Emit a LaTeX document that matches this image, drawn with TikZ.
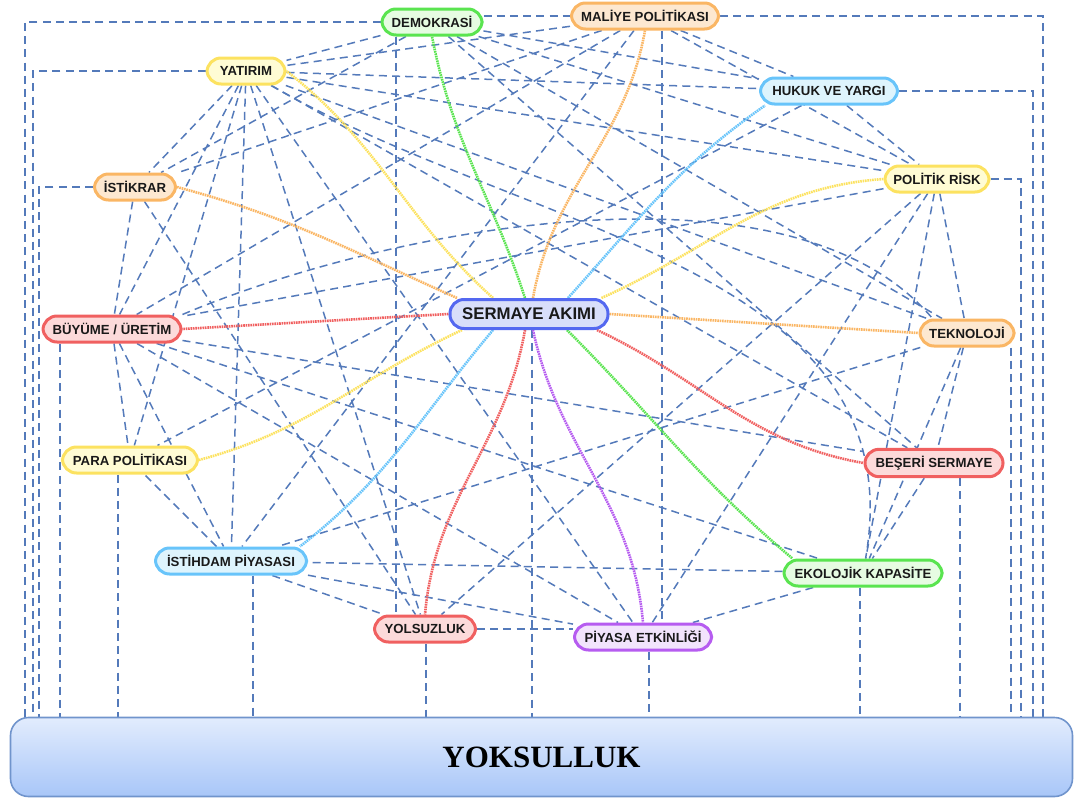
\documentclass[tikz,border=0pt]{standalone}
\usepackage{fontspec}
\newfontfamily\lblfont{Liberation Sans}
\newfontfamily\yokfont{Liberation Serif}
\usetikzlibrary{backgrounds}
\definecolor{grnD}{RGB}{90,228,80}
\definecolor{grnL}{RGB}{230,252,226}
\definecolor{orgD}{RGB}{250,182,100}
\definecolor{orgL}{RGB}{253,232,208}
\definecolor{ylwD}{RGB}{252,226,96}
\definecolor{ylwL}{RGB}{255,252,212}
\definecolor{cyaD}{RGB}{104,196,250}
\definecolor{cyaL}{RGB}{222,244,253}
\definecolor{redD}{RGB}{240,96,96}
\definecolor{redL}{RGB}{252,218,218}
\definecolor{purD}{RGB}{182,92,240}
\definecolor{purL}{RGB}{242,228,252}
\definecolor{bluD}{RGB}{84,104,240}
\definecolor{bluL}{RGB}{216,222,250}
\definecolor{linkC}{RGB}{84,122,186}
\definecolor{yokD}{RGB}{112,148,204}
\definecolor{yokT}{RGB}{226,236,253}
\definecolor{yokB}{RGB}{168,198,248}
\tikzset{
  box/.style 2 args={draw=#1, fill=#2, line width=1.5pt, rounded corners=7pt,
    minimum height=13pt, inner xsep=0pt, text=black!90,
    font=\lblfont\bfseries\fontsize{6.6}{7}\selectfont},
  link/.style={draw=linkC, line width=0.75pt, dash pattern=on 4pt off 2.6pt},
  flow/.style={draw=#1, line width=1.3pt, dash pattern=on 0.8pt off 0.4pt},
}

\begin{document}
\begin{tikzpicture}[x=0.5pt, y=0.5pt]
\useasboundingbox (0,0) rectangle (1078,-798);

% factors
\node[box={grnD}{grnL}, minimum width=50pt] (dem) at (432,-22) {DEMOKRASİ};
\node[box={orgD}{orgL}, minimum width=73.5pt] (mal) at (645,-16) {MALİYE POLİTİKASI};
\node[box={ylwD}{ylwL}, minimum width=39pt] (yat) at (246,-71) {YATIRIM};
\node[box={cyaD}{cyaL}, minimum width=68.5pt] (huk) at (829,-91) {HUKUK VE YARGI};
\node[box={orgD}{orgL}, minimum width=40.5pt] (ist) at (135,-187) {İSTİKRAR};
\node[box={ylwD}{ylwL}, minimum width=52pt] (pol) at (937,-179) {POLİTİK RİSK};
\node[box={bluD}{bluL}, minimum width=79pt, minimum height=14.5pt,
  font=\lblfont\bfseries\fontsize{8.4}{9}\selectfont] (ser) at (529,-314) {SERMAYE AKIMI};
\node[box={redD}{redL}, minimum width=69pt] (buy) at (112,-329) {BÜYÜME / ÜRETİM};
\node[box={orgD}{orgL}, minimum width=47pt] (tek) at (967,-333) {TEKNOLOJİ};
\node[box={ylwD}{ylwL}, minimum width=67.5pt] (para) at (130,-460) {PARA POLİTİKASI};
\node[box={redD}{redL}, minimum width=69pt] (bes) at (934,-463) {BEŞERİ SERMAYE};
\node[box={cyaD}{cyaL}, minimum width=75.5pt] (isth) at (231,-561) {İSTİHDAM PİYASASI};
\node[box={grnD}{grnL}, minimum width=79pt] (eko) at (863,-573) {EKOLOJİK KAPASİTE};
\node[box={redD}{redL}, minimum width=50.5pt] (yols) at (425,-629) {YOLSUZLUK};
\node[box={purD}{purL}, minimum width=68.5pt] (piy) at (643,-637) {PİYASA ETKİNLİĞİ};

% result
\node[draw=yokD, line width=0.8pt, rounded corners=9pt, top color=yokT, bottom color=yokB,
  minimum width=531pt, minimum height=39.5pt,
  font=\yokfont\bfseries\fontsize{15.5}{18}\selectfont] (yok) at (541.5,-757) {YOKSULLUK};

\begin{pgfonlayer}{background}
% links between factors
\draw[link] (dem) -- (yat) (dem) -- (ist) (dem) -- (huk) (dem) -- (pol) (dem) -- (bes) (dem) -- (tek)
  (mal) -- (yat) (mal) -- (ist) (mal) -- (buy) (mal) -- (isth) (mal) -- (huk) (mal) -- (pol)
  (yat) -- (huk) (yat) -- (pol) (yat) -- (tek) (yat) -- (ist) (yat) -- (buy) (yat) -- (para)
  (yat) -- (isth) (yat) -- (yols) (yat) -- (piy) (yat) -- (bes)
  (huk) -- (pol) (huk) -- (para) (ist) -- (buy) (ist) -- (yols)
  (pol) -- (buy) (pol) -- (yols) (pol) -- (piy) (pol) -- (eko) (pol) -- (tek)
  (buy) -- (bes) (buy) -- (eko) (buy) -- (piy) (buy) -- (isth) (buy) -- (para)
  (tek) -- (isth) (tek) -- (eko) (tek) -- (bes) (bes) -- (eko)
  (eko) -- (piy) (eko) -- (isth) (isth) -- (piy) (isth) -- (yols) (isth) -- (para);
\draw[link] (buy.north east) to[out=23,in=130,looseness=0.75] ([xshift=7pt]tek.north west);
\draw[link] (yat) to[out=-30,in=80] (eko);
% links down to the result
\draw[link] (dem.east |- mal.west) -- (mal.west)
  (yols.east) -- (yols.east -| piy.west)
  (396,0 |- dem.south) -- (396,0 |- yols.north)
  (662,0 |- mal.south) -- (662,0 |- piy.north);
\draw[link] (dem.west) -| (25,0 |- yok.north)
  (yat.west) -| (33,0 |- yok.north)
  (ist.west) -| (39,0 |- yok.north)
  (mal.east) -| (1043,0 |- yok.north)
  (huk.east) -| (1033,0 |- yok.north)
  (pol.east) -| (1021,0 |- yok.north);
\draw[link] (60,0 |- buy.south) -- (60,0 |- yok.north)
  (118,0 |- para.south) -- (118,0 |- yok.north)
  (253,0 |- isth.south) -- (253,0 |- yok.north)
  (426,0 |- yols.south) -- (426,0 |- yok.north)
  (532,0 |- ser.south) -- (532,0 |- yok.north)
  (649,0 |- piy.south) -- (649,0 |- yok.north)
  (860,0 |- eko.south) -- (860,0 |- yok.north)
  (960,0 |- bes.south) -- (960,0 |- yok.north)
  (1011,0 |- tek.south) -- (1011,0 |- yok.north);
% capital flow
\draw[flow=grnD] ([xshift=-2pt]ser.north) to[out=108,in=-79] (dem.south);
\draw[flow=orgD] ([xshift=2pt]ser.north) to[out=80,in=-100] (mal.south);
\draw[flow=ylwD] ([xshift=-18pt]ser.north) to[out=138,in=-38] (yat.east);
\draw[flow=cyaD] ([xshift=19.5pt]ser.north) to[out=48,in=-145] ([xshift=3pt]huk.south west);
\draw[flow=orgD] ([xshift=-36pt]ser.north) to[out=156,in=-15] (ist.east);
\draw[flow=ylwD] ([xshift=-4pt]ser.north east) to[out=24,in=184] (pol.west);
\draw[flow=redD] (ser.west) -- (buy.east);
\draw[flow=orgD] (ser.east) -- (tek.west);
\draw[flow=ylwD] ([xshift=-33.5pt]ser.south) to[out=205,in=15] (para.east);
\draw[flow=cyaD] ([xshift=-18pt]ser.south) to[out=230,in=38] ([xshift=-4pt]isth.north east);
\draw[flow=redD] ([xshift=-2pt]ser.south) to[out=260,in=85] (yols.north);
\draw[flow=purD] ([xshift=2pt]ser.south) to[out=-78,in=95] (piy.north);
\draw[flow=grnD] ([xshift=19pt]ser.south) to[out=-45,in=140] ([xshift=5pt]eko.north west);
\draw[flow=redD] ([xshift=34pt]ser.south) to[out=-25,in=170] (bes.west);
\end{pgfonlayer}
\end{tikzpicture}
\end{document}
